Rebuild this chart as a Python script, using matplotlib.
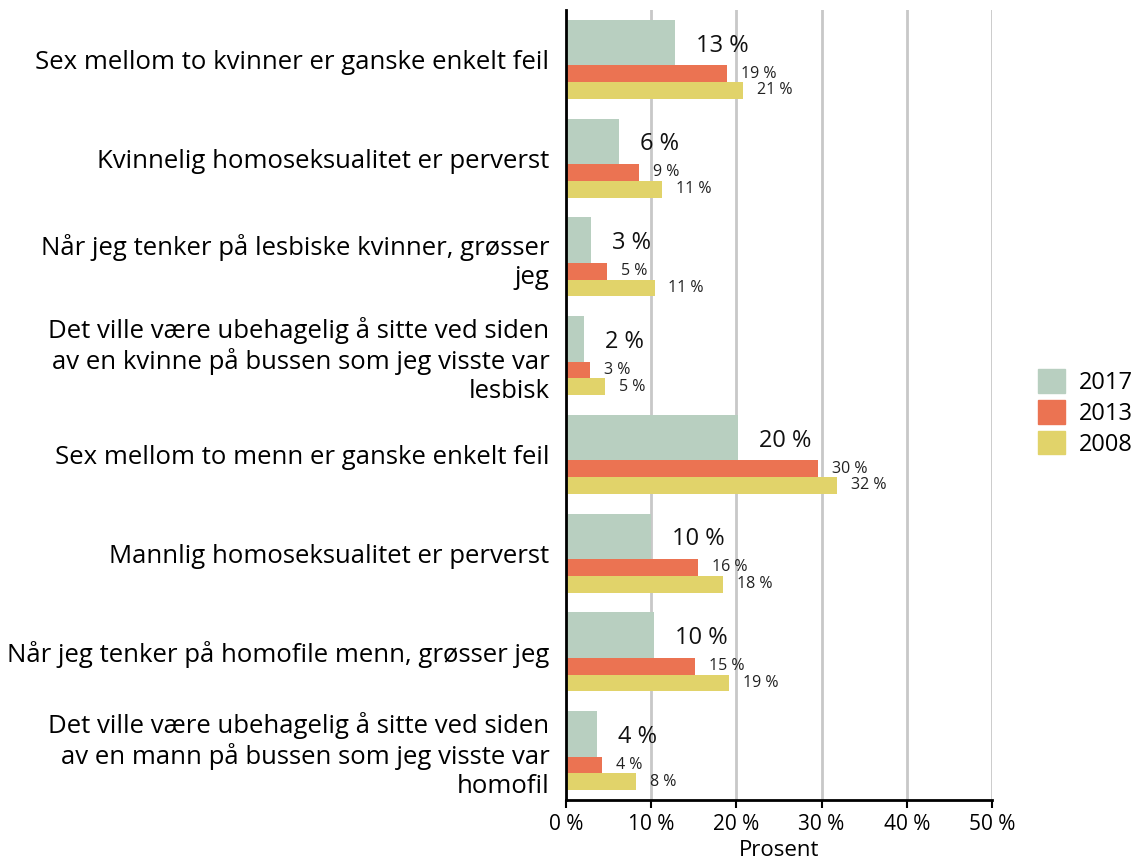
import matplotlib
matplotlib.use("Agg")
import matplotlib.pyplot as plt
import numpy as np
from matplotlib.patches import Patch

plt.rcParams['font.family'] = ['Open Sans', 'DejaVu Sans']

categories = [
    "Sex mellom to kvinner er ganske enkelt feil",
    "Kvinnelig homoseksualitet er perverst",
    "Når jeg tenker på lesbiske kvinner, grøsser\njeg",
    "Det ville være ubehagelig å sitte ved siden\nav en kvinne på bussen som jeg visste var\nlesbisk",
    "Sex mellom to menn er ganske enkelt feil",
    "Mannlig homoseksualitet er perverst",
    "Når jeg tenker på homofile menn, grøsser jeg",
    "Det ville være ubehagelig å sitte ved siden\nav en mann på bussen som jeg visste var\nhomofil",
]
v2017 = [12.8, 6.2, 2.9, 2.1, 20.2, 10.0, 10.3, 3.6]
v2013 = [18.9, 8.6, 4.8, 2.8, 29.6, 15.5, 15.1, 4.2]
v2008 = [20.8, 11.3, 10.4, 4.6, 31.8, 18.4, 19.1, 8.2]
lab2017 = ["13 %", "6 %", "3 %", "2 %", "20 %", "10 %", "10 %", "4 %"]
lab2013 = ["19 %", "9 %", "5 %", "3 %", "30 %", "16 %", "15 %", "4 %"]
lab2008 = ["21 %", "11 %", "11 %", "5 %", "32 %", "18 %", "19 %", "8 %"]
xticks = [0, 10, 20, 30, 40, 50]
xticklabels = ["0 %", "10 %", "20 %", "30 %", "40 %", "50 %"]

c2017 = "#b8cfc0"
c2013 = "#eb7352"
c2008 = "#e1d36a"

fig = plt.figure(figsize=(11.38, 8.61), dpi=100)
ax = fig.add_axes([566/1138, 1-800/861, (992-566)/1138, 790/861])

n = len(categories)
y = np.arange(n)
h17, h13, h08 = 0.46, 0.17, 0.17
top = y - 0.40  # top edge of group (inverted axis)
c17 = top + h17/2
c13 = top + h17 + h13/2
c08 = top + h17 + h13 + h08/2

ax.barh(c17, v2017, height=h17, color=c2017, zorder=3)
ax.barh(c13, v2013, height=h13, color=c2013, zorder=3)
ax.barh(c08, v2008, height=h08, color=c2008, zorder=3)

for i in range(n):
    ax.annotate(lab2017[i], (v2017[i], c17[i] + 0.03), xytext=(15, 0), textcoords="offset points",
                va="center", ha="left", fontsize=17, color="#111111")
    ax.annotate(lab2013[i], (v2013[i], c13[i]), xytext=(10, 0), textcoords="offset points",
                va="center", ha="left", fontsize=11.5, color="#222222")
    ax.annotate(lab2008[i], (v2008[i], c08[i]), xytext=(10, 0), textcoords="offset points",
                va="center", ha="left", fontsize=11.5, color="#222222")

ax.set_ylim(n - 0.5, -0.5)
ax.set_xlim(0, 50)
ax.set_yticks(y)
ax.set_yticklabels(categories, fontsize=18.5, linespacing=1.2)
ax.tick_params(axis='y', length=0, pad=12)
ax.set_xticks(xticks)
ax.set_xticklabels(xticklabels, fontsize=15)
ax.tick_params(axis='x', length=6, width=1.5, direction='out', pad=4)
ax.set_xlabel("Prosent", fontsize=16, labelpad=4)

ax.grid(axis='x', color="#c8c8c8", linewidth=2, zorder=0)
ax.set_axisbelow(True)
for s in ["top", "right"]:
    ax.spines[s].set_visible(False)
ax.spines["left"].set_linewidth(2)
ax.spines["bottom"].set_linewidth(2)
ax.spines["left"].set_zorder(4)

handles = [Patch(color=c2017, label="2017"), Patch(color=c2013, label="2013"), Patch(color=c2008, label="2008")]
fig.legend(handles=handles, loc="center left", bbox_to_anchor=(1038/1138, 1-413/861), frameon=False,
           borderpad=0, borderaxespad=0,
           fontsize=17, handlelength=1.15, handleheight=1.15, handletextpad=0.6, labelspacing=0.22)

fig.savefig("out.png", dpi=100)
